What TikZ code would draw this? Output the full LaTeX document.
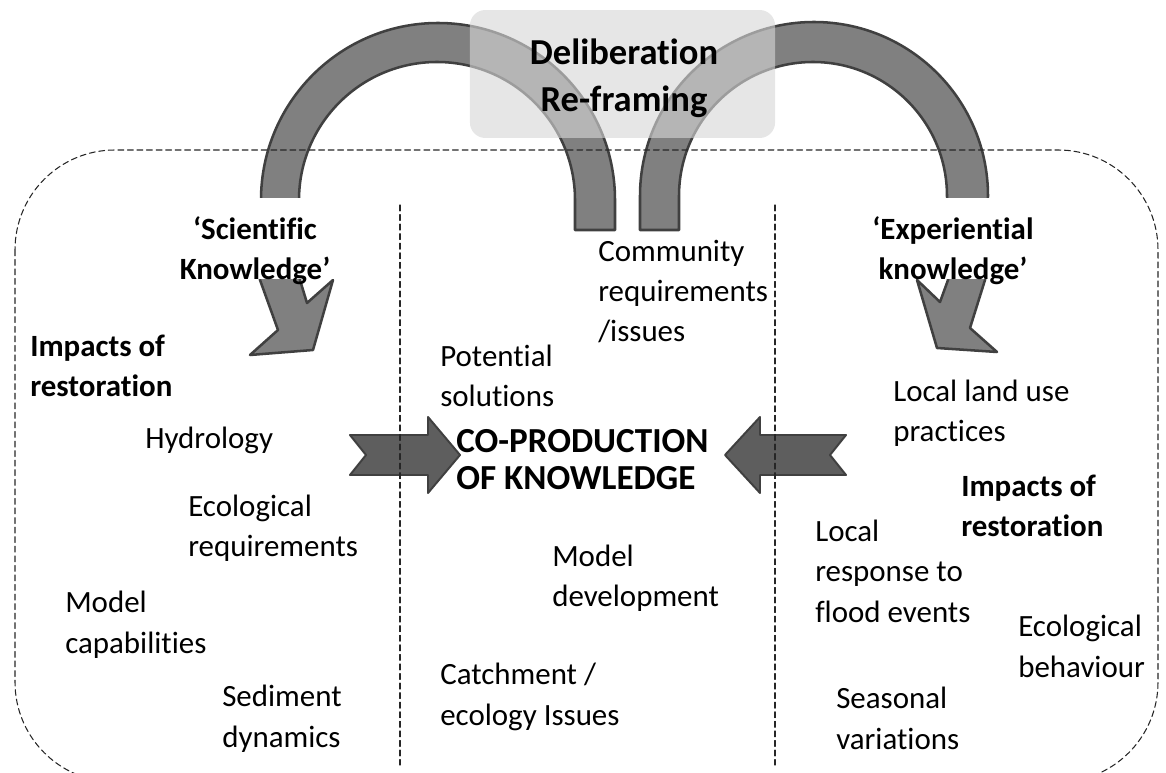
\documentclass[tikz,border=0pt]{standalone}
\usepackage{fontspec}
\setmainfont{Carlito}[Ligatures={TeX,NoCommon}]
\usepackage{xcolor}
\usetikzlibrary{positioning}
\definecolor{cparrow}{HTML}{808080}
\definecolor{cpedge}{HTML}{404040}
\definecolor{cpblock}{HTML}{5E5E5E}
\definecolor{cpbox}{HTML}{D6D6D6}
\tikzset{
  every picture/.append style={line cap=round,line join=round},
  cp frame/.style={black!85,line width=0.75pt,dash pattern=on 4.2pt off 2.6pt},
  cp divider/.style={black!85,line width=0.75pt,dash pattern=on 4.2pt off 2.6pt},
  cp arc/.style={fill=cparrow,draw=cpedge,line width=1.8pt},
  cp block/.style={fill=cpblock,draw=cpedge,line width=1.4pt},
  cp box/.style={fill=cpbox,fill opacity=0.62,rounded corners=11pt,inner sep=0pt},
  cp mask/.style={fill=white,inner sep=0pt},
  cp text/.style={font=\fontsize{22}{28.5}\selectfont,align=left,inner sep=0pt,anchor=base west},
  cp bold/.style={cp text,font=\fontsize{22}{28.5}\selectfont\bfseries},
  cp head/.style={cp bold,align=center,anchor=base},
  cp title/.style={font=\fontsize{26}{34}\selectfont\bfseries,align=center,inner sep=0pt,anchor=base}
}

\begin{document}
\begin{tikzpicture}[x=0.025cm, y=-0.025cm]
  \useasboundingbox (0,0) rectangle (1166,773);
  \clip (0,0) rectangle (1166,773);
  \draw[cp arc] (615,230) -- (615,200) arc[start angle=0, end angle=-180, radius=177]
    -- (260,280) -- (278,330) -- (250,355) -- (313,350) -- (333,280) -- (307,303) -- (300,280)
    -- (299,200) arc[start angle=180, end angle=360, radius=138] -- (575,230) -- cycle;
  \draw[cp arc] (640,230) -- (640,196) arc[start angle=180, end angle=360, radius=174]
    -- (985,280) -- (970,328) -- (997,352) -- (937,348) -- (917,280) -- (940,302) -- (948,280)
    -- (947,196) arc[start angle=0, end angle=-180, radius=134] -- (679,230) -- cycle;
  \draw[cp block] (350,435) -- (428,435) -- (428,417) -- (460,455) -- (428,493) -- (428,475)
    -- (350,475) -- (366,455) -- cycle;
  \draw[cp block] (725,455) -- (760,417) -- (760,435) -- (846,435) -- (830,455) -- (846,475)
    -- (760,475) -- (760,493) -- cycle;
  \draw[cp frame, rounded corners=71pt] (15,150) rectangle (1158,782);
  \draw[cp divider] (400,205) -- (400,765);
  \draw[cp divider] (775,205) -- (775,765);
  \node[cp box, minimum width=217pt, minimum height=91pt] (delibBox) at (622.5,74) {};
  \node[cp mask, minimum width=117pt, minimum height=57.6pt] (sciMask) at (252.5,238.5) {};
  \node[cp mask, minimum width=124.5pt, minimum height=57.6pt] (expMask) at (952.5,238.5) {};

  \node[cp title] (delib) at (624,112) {Deliberation\\Re-framing};
  \node[cp head] (sci) at (255,280) {‘Scientific\\Knowledge’};
  \node[cp head] (exp) at (953,280) {‘Experiential\\knowledge’};

  \node[cp bold] (impL) at (30,397) {Impacts of\\restoration};
  \node[cp text] (hydro) at (145,449) {Hydrology};
  \node[cp text] (ecoReq) at (188,557) {Ecological\\requirements};
  \node[cp text] (modCap) at (65,653) {Model\\capabilities};
  \node[cp text] (sedDyn) at (222,747) {Sediment\\dynamics};

  \node[cp text] (commReq) at (598,342) {Community\\requirements\\/issues};
  \node[cp text] (potSol) at (440,407) {Potential\\solutions};
  \node[cp bold, font=\fontsize{25}{27}\selectfont\bfseries] (coprod) at (456,490) {CO-PRODUCTION\\OF KNOWLEDGE};
  \node[cp text] (modDev) at (552,607) {Model\\development};
  \node[cp text] (catch) at (440,725) {Catchment /\\ecology Issues};

  \node[cp text] (landUse) at (893,442) {Local land use\\practices};
  \node[cp bold] (impR) at (961,537) {Impacts of\\restoration};
  \node[cp text] (flood) at (815,622) {Local\\response to\\flood events};
  \node[cp text] (ecoBeh) at (1018,677) {Ecological\\behaviour};
  \node[cp text] (season) at (836,749) {Seasonal\\variations};
\end{tikzpicture}
\end{document}
